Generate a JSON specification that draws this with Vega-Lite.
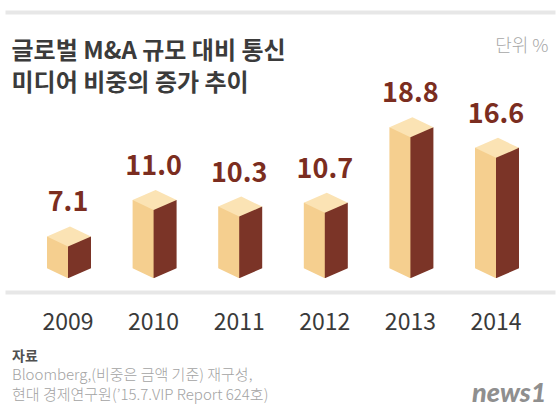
{
  "$schema": "https://vega.github.io/schema/vega-lite/v6.json",
  "autosize": {"type": "none"},
  "padding": {"top": 12, "left": 5, "right": 5, "bottom": 118},
  "width": 550,
  "height": 280,
  "background": "#ffffff",
  "config": {"view": {"stroke": null}, "font": "Noto Sans CJK KR"},
  "title": {
    "text": "자료",
    "subtitle": ["Bloomberg,(비중은 금액 기준) 재구성,", "현대 경제연구원(’15.7.VIP Report 624호)"],
    "orient": "bottom",
    "anchor": "start",
    "frame": "group",
    "dx": 7,
    "offset": -56,
    "fontSize": 14,
    "fontWeight": "bold",
    "color": "#505050",
    "font": "Noto Sans CJK KR",
    "subtitleFont": "Noto Sans CJK KR",
    "subtitleFontSize": 15,
    "subtitleColor": "#a3a3a3",
    "subtitleFontWeight": 300,
    "subtitleLineHeight": 20,
    "subtitlePadding": 4
  },
  "data": {
    "values": [
      {"year": "2009", "value": 7.1},
      {"year": "2010", "value": 11.0},
      {"year": "2011", "value": 10.3},
      {"year": "2012", "value": 10.7},
      {"year": "2013", "value": 18.8},
      {"year": "2014", "value": 16.6}
    ]
  },
  "encoding": {
    "x": {
      "field": "year",
      "type": "nominal",
      "scale": {"paddingInner": 0, "paddingOuter": 0.2126, "align": 0.555},
      "axis": {
        "title": ["글로벌 M&A 규모 대비 통신", "미디어 비중의 증가 추이"],
        "titleX": 6,
        "titleY": -234,
        "titleAlign": "left",
        "titleAnchor": "start",
        "titleBaseline": "alphabetic",
        "titleFontSize": 24,
        "titleFontWeight": "bold",
        "titleColor": "#3b3b3b",
        "titleLineHeight": 32,
        "labelFontSize": 23,
        "labelColor": "#3a3a3a",
        "labelPadding": 37,
        "labelBaseline": "alphabetic",
        "labelAngle": 0,
        "ticks": false,
        "tickSize": 0,
        "domain": false,
        "grid": false
      }
    }
  },
  "layer": [
    {
      "mark": {"type": "bar", "color": "#f5cf8f", "width": 22, "xOffset": -10, "yOffset": -10},
      "encoding": {
        "y": {
          "field": "value",
          "type": "quantitative",
          "scale": {"domain": [2.21, 32.25], "zero": false, "nice": false},
          "axis": {
            "orient": "left",
            "grid": true,
            "values": [2.21, 32.25],
            "gridColor": "#e7e7e7",
            "gridWidth": 4,
            "gridOpacity": 1,
            "domain": false,
            "ticks": false,
            "labels": false,
            "title": "단위 %",
            "titleAngle": 0,
            "titleAlign": "right",
            "titleBaseline": "alphabetic",
            "titleX": 543,
            "titleY": 39,
            "titleFontSize": 18,
            "titleFontWeight": 300,
            "titleColor": "#a7a7a7"
          }
        },
        "y2": {"datum": 3.68}
      }
    },
    {
      "mark": {"type": "bar", "color": "#7b3427", "width": 23, "xOffset": 11.5, "yOffset": -10},
      "encoding": {
        "y": {"field": "value", "type": "quantitative", "axis": null},
        "y2": {"datum": 3.68}
      }
    },
    {
      "mark": {
        "type": "point",
        "shape": "M-1.05,-0.5L-1.2,-0.5L-1.2,0.15L1.3,0.15L1.3,-0.5L1.15,-0.5L0,0Z",
        "size": 1600,
        "filled": true,
        "color": "#ffffff",
        "opacity": 1,
        "strokeWidth": 0
      },
      "encoding": {
        "y": {"datum": 3.68, "type": "quantitative", "axis": null}
      }
    },
    {
      "mark": {
        "type": "point",
        "shape": "M-1.05,-0.5L0,0L1.15,-0.5L0.1,-1Z",
        "size": 1600,
        "filled": true,
        "color": "#fbe3b4",
        "opacity": 1,
        "strokeWidth": 0
      },
      "encoding": {
        "y": {"field": "value", "type": "quantitative", "axis": null}
      }
    },
    {
      "mark": {
        "type": "text",
        "dy": -35,
        "baseline": "alphabetic",
        "align": "center",
        "fontSize": 27,
        "fontWeight": "bold",
        "color": "#7b2d20",
        "font": "Noto Sans CJK KR"
      },
      "encoding": {
        "y": {
          "field": "value",
          "type": "quantitative",
          "axis": {
            "orient": "right",
            "grid": false,
            "domain": false,
            "ticks": false,
            "labels": false,
            "title": "news1",
            "titleAngle": 0,
            "titleAlign": "right",
            "titleBaseline": "alphabetic",
            "titleX": -9,
            "titleY": 389,
            "titleFontSize": 27,
            "titleFontStyle": "italic",
            "titleFontWeight": 900,
            "titleFont": "Lato",
            "titleColor": "#8f8f8f"
          }
        },
        "text": {"field": "value", "type": "quantitative", "format": ".1f"}
      }
    }
  ],
  "resolve": {"axis": {"y": "independent"}}
}
